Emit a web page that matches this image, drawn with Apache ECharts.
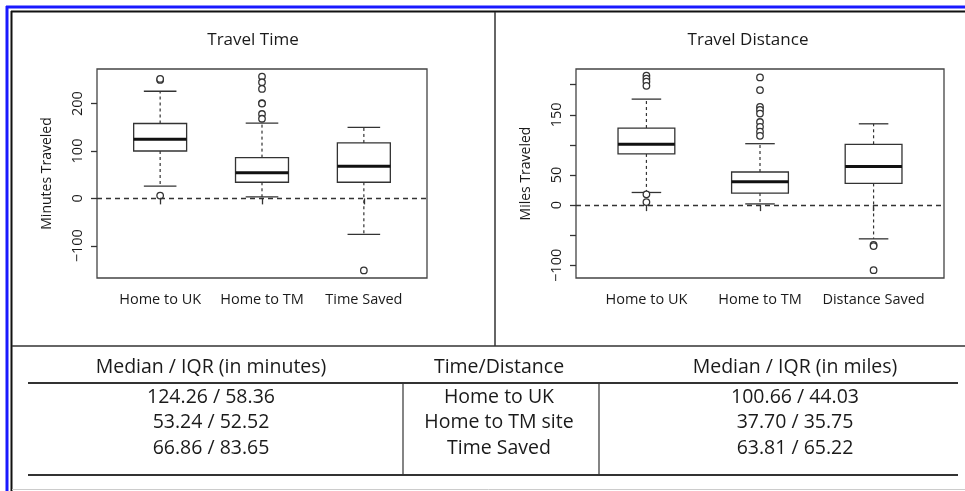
<!DOCTYPE html>
<html>
<head>
<meta charset="utf-8">
<script src="https://cdn.jsdelivr.net/npm/echarts@6/dist/echarts.min.js"></script>
<style>
  html, body { margin: 0; padding: 0; background: #fff; }
  #container { width: 965px; height: 491px; }
</style>
</head>
<body>
<div id="container"></div>
<script>
// box stats: [lower whisker, Q1, median, Q3, upper whisker]
var timeCats = ['Home to UK', 'Home to TM', 'Time Saved'];
var timeBoxes = [[26, 100, 125, 158, 226], [3, 34, 54, 86, 159], [-76, 34, 68, 117, 150]];
var timeOutliers = [[250, 252, 6], [257, 245, 231, 201, 200, 178, 168], [-152]];
var timeTicks = [-100, 0, 100, 200];

var distCats = ['Home to UK', 'Home to TM', 'Distance Saved'];
var distBoxes = [[21, 85, 101, 128, 176], [2, 20, 39, 55, 102], [-56, 36, 64, 101, 135]];
var distOutliers = [[215, 210, 205, 198, 18, 5], [212, 191, 163, 158, 152, 138, 130, 122, 115], [-66, -68, -108]];
var distTicks = [-100, -50, 0, 50, 100, 150, 200];
var distTickLabels = [-100, 0, 50, 150];

// summary table
var tableHeader = ['Median / IQR (in minutes)', 'Time/Distance', 'Median / IQR (in miles)'];
var minutesCol = ['124.26 / 58.36', '53.24 / 52.52', '66.86 / 83.65'];
var groupCol = ['Home to UK', 'Home to TM site', 'Time Saved'];
var milesCol = ['100.66 / 44.03', '37.70 / 35.75', '63.81 / 65.22'];

var FONT = 'Open Sans';
var INK = '#333';
var TXT = '#1a1a1a';

var dom = document.getElementById('container');
var myChart = echarts.init(dom);

function boxRenderer(halfW, capW) {
  return function (params, api) {
    var x = api.value(0);
    var mn = api.value(1), q1 = api.value(2), md = api.value(3), q3 = api.value(4), mx = api.value(5);
    var c = function (dx, v) { return api.coord([x + dx, v]); };
    var tl = c(-halfW, q3), br = c(halfW, q1);
    var dash = { stroke: INK, lineWidth: 1.2, lineDash: [3, 3] };
    var solid = { stroke: INK, lineWidth: 1.3 };
    function seg(a, b, st) {
      return { type: 'line', shape: { x1: a[0], y1: a[1], x2: b[0], y2: b[1] }, style: st };
    }
    return {
      type: 'group',
      children: [
        seg(c(0, q3), c(0, mx), dash),
        seg(c(0, q1), c(0, mn), dash),
        seg(c(-capW, mx), c(capW, mx), solid),
        seg(c(-capW, mn), c(capW, mn), solid),
        { type: 'rect', shape: { x: tl[0], y: tl[1], width: br[0] - tl[0], height: br[1] - tl[1] },
          style: { fill: '#fff', stroke: INK, lineWidth: 1.3 } },
        seg(c(-halfW, md), c(halfW, md), { stroke: '#111', lineWidth: 3 })
      ]
    };
  };
}

function toBoxData(boxes) {
  return boxes.map(function (b, i) { return [i + 1].concat(b); });
}
function toPoints(outs) {
  var pts = [];
  outs.forEach(function (arr, i) { arr.forEach(function (v) { pts.push([i + 1, v]); }); });
  return pts;
}
function minus(v) { return String(v).replace('-', '\u2212'); }

function xAx(idx, cats) {
  return {
    type: 'value', gridIndex: idx, min: 0.38, max: 3.62,
    splitLine: { show: false }, axisLine: { show: false },
    axisTick: { customValues: [1, 2, 3], length: 6, lineStyle: { color: INK, width: 1.3 } },
    axisLabel: { customValues: [1, 2, 3], margin: 14, fontSize: 14.5, color: TXT, fontFamily: FONT,
      formatter: function (v) { return cats[Math.round(v) - 1]; } }
  };
}
function yAx(idx, min, max, ticks, labels, name) {
  return {
    type: 'value', gridIndex: idx, min: min, max: max,
    name: name, nameLocation: 'middle', nameRotate: 90, nameGap: 43,
    nameTextStyle: { fontSize: 14, color: TXT, fontFamily: FONT },
    splitLine: { show: false }, axisLine: { show: false },
    axisTick: { customValues: ticks, length: 6, lineStyle: { color: INK, width: 1.3 } },
    axisLabel: { customValues: labels, rotate: 90, margin: 12, fontSize: 14.5, color: TXT, fontFamily: FONT,
      formatter: minus }
  };
}

var zeroLine = {
  silent: true, symbol: 'none', label: { show: false },
  lineStyle: { type: [5, 4], color: INK, width: 1.3 },
  data: [{ yAxis: 0 }]
};
var outlierStyle = { color: '#fff', borderColor: INK, borderWidth: 1.3, opacity: 1 };

// frame, titles and the table
var gfx = [
  { type: 'rect', shape: { x: 0, y: 0, width: 965, height: 491 }, style: { fill: '#fff' }, z: -10 },
  { type: 'line', shape: { x1: 6, y1: 7, x2: 965, y2: 7 }, style: { stroke: '#1a1aff', lineWidth: 3 } },
  { type: 'line', shape: { x1: 7, y1: 6, x2: 7, y2: 491 }, style: { stroke: '#1a1aff', lineWidth: 3 } },
  { type: 'line', shape: { x1: 11, y1: 11.5, x2: 965, y2: 11.5 }, style: { stroke: '#111', lineWidth: 2 } },
  { type: 'line', shape: { x1: 11.5, y1: 11, x2: 11.5, y2: 491 }, style: { stroke: '#111', lineWidth: 2 } },
  { type: 'line', shape: { x1: 495, y1: 12, x2: 495, y2: 346 }, style: { stroke: INK, lineWidth: 1.5 } },
  { type: 'line', shape: { x1: 12, y1: 346, x2: 965, y2: 346 }, style: { stroke: INK, lineWidth: 1.5 } },
  { type: 'line', shape: { x1: 12, y1: 489.5, x2: 965, y2: 489.5 }, style: { stroke: '#ccc', lineWidth: 1 } },
  { type: 'line', shape: { x1: 28, y1: 383, x2: 958, y2: 383 }, style: { stroke: INK, lineWidth: 2 } },
  { type: 'line', shape: { x1: 28, y1: 475, x2: 958, y2: 475 }, style: { stroke: INK, lineWidth: 2 } },
  { type: 'line', shape: { x1: 403, y1: 383, x2: 403, y2: 475 }, style: { stroke: INK, lineWidth: 1.2 } },
  { type: 'line', shape: { x1: 599, y1: 383, x2: 599, y2: 475 }, style: { stroke: INK, lineWidth: 1.2 } },
  { type: 'text', x: 253, y: 40, style: { text: 'Travel Time', fill: TXT, font: '17px "' + FONT + '"', align: 'center', verticalAlign: 'middle' } },
  { type: 'text', x: 748, y: 40, style: { text: 'Travel Distance', fill: TXT, font: '17px "' + FONT + '"', align: 'center', verticalAlign: 'middle' } }
];
var colX = [211, 499, 795];
var tableFont = '19.5px "' + FONT + '"';
tableHeader.forEach(function (t, i) {
  gfx.push({ type: 'text', x: colX[i], y: 367, style: { text: t, fill: TXT, font: tableFont, align: 'center', verticalAlign: 'middle' } });
});
var rowY = [397, 422, 448];
[minutesCol, groupCol, milesCol].forEach(function (col, ci) {
  col.forEach(function (t, ri) {
    gfx.push({ type: 'text', x: colX[ci], y: rowY[ri], style: { text: t, fill: TXT, font: tableFont, align: 'center', verticalAlign: 'middle' } });
  });
});

var option = {
  animation: false,
  backgroundColor: '#fff',
  grid: [
    { left: 97, top: 69, width: 330, height: 209, show: true, borderColor: '#444', borderWidth: 1.3 },
    { left: 576, top: 69, width: 368, height: 209, show: true, borderColor: '#444', borderWidth: 1.3 }
  ],
  xAxis: [xAx(0, timeCats), xAx(1, distCats)],
  yAxis: [
    yAx(0, -168, 273, timeTicks, timeTicks, 'Minutes Traveled'),
    yAx(1, -121, 226, distTicks, distTickLabels, 'Miles Traveled')
  ],
  graphic: gfx,
  series: [
    { type: 'custom', xAxisIndex: 0, yAxisIndex: 0, renderItem: boxRenderer(0.26, 0.16),
      encode: { x: 0, y: [1, 2, 3, 4, 5] }, data: toBoxData(timeBoxes), z: 3, markLine: zeroLine },
    { type: 'scatter', xAxisIndex: 0, yAxisIndex: 0, symbol: 'circle', symbolSize: 6.5,
      itemStyle: outlierStyle, data: toPoints(timeOutliers), z: 4 },
    { type: 'custom', xAxisIndex: 1, yAxisIndex: 1, renderItem: boxRenderer(0.25, 0.13),
      encode: { x: 0, y: [1, 2, 3, 4, 5] }, data: toBoxData(distBoxes), z: 3, markLine: zeroLine },
    { type: 'scatter', xAxisIndex: 1, yAxisIndex: 1, symbol: 'circle', symbolSize: 6.5,
      itemStyle: outlierStyle, data: toPoints(distOutliers), z: 4 }
  ]
};

if (option && typeof option === 'object') {
  myChart.setOption(option, true);
}
</script>
</body>
</html>
